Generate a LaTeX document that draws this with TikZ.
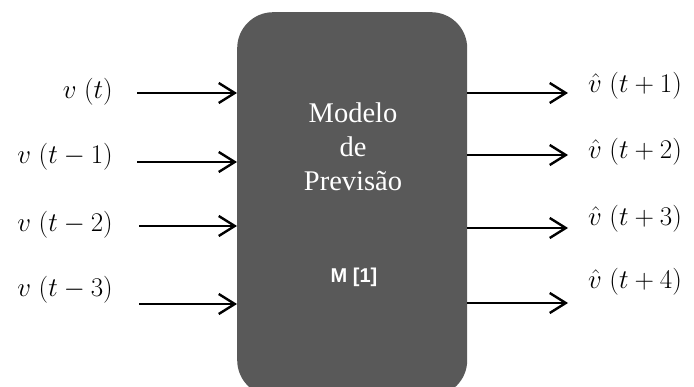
\RequirePackage{fix-cm}
\documentclass[tikz,border=0pt]{standalone}
\usepackage{fontspec}
\setmainfont{Liberation Serif}
\setsansfont{Liberation Sans}
\usetikzlibrary{arrows.meta}
\definecolor{boxgray}{HTML}{595959}
\tikzset{
  arr/.style={line width=2.4pt, -{Straight Barb[length=16pt,width=20pt,line width=2.4pt]}},
  lab/.style={font=\fontsize{27}{32}\selectfont, inner sep=0pt},
}
\begin{document}
\begin{tikzpicture}[x=1pt,y=-1pt]
\useasboundingbox (0,0) rectangle (694,387);
\clip (0,0) rectangle (694,387);
\node[fill=boxgray, rounded corners=36pt, minimum width=230pt, minimum height=384pt, anchor=north west, inner sep=0pt] (model) at (237,12) {};
\node[text=white, font=\fontsize{28.5}{34}\selectfont, align=center, inner sep=0pt] (title) at (353,147) {Modelo\\de\\Previsão};
\node[text=white, font=\sffamily\bfseries\fontsize{20}{24}\selectfont, inner sep=0pt] (mlabel) at (354,277) {M [1]};
% inputs
\node[lab, anchor=east] (l1) at (113,92) {$v\;(t)$};
\node[lab, anchor=east] (l2) at (113,157) {$v\;(t-1)$};
\node[lab, anchor=east] (l3) at (113,225) {$v\;(t-2)$};
\node[lab, anchor=east] (l4) at (113,290) {$v\;(t-3)$};
\coordinate (i1) at (137,93);
\coordinate (i2) at (137,162);
\coordinate (i3) at (139,226);
\coordinate (i4) at (139,304);
\foreach \c in {i1,i2,i3,i4} \draw[arr] (\c) -- (\c -| model.west);
% outputs
\node[lab, anchor=west] (r1) at (588,86) {$\hat{v}\;(t+1)$};
\node[lab, anchor=west] (r2) at (588,152) {$\hat{v}\;(t+2)$};
\node[lab, anchor=west] (r3) at (588,219) {$\hat{v}\;(t+3)$};
\node[lab, anchor=west] (r4) at (588,282) {$\hat{v}\;(t+4)$};
\coordinate (o1) at (568,93);
\coordinate (o2) at (568,155);
\coordinate (o3) at (568,228);
\coordinate (o4) at (568,303);
\foreach \c in {o1,o2,o3,o4} \draw[arr] (model.east |- \c) -- (\c);
\end{tikzpicture}
\end{document}
